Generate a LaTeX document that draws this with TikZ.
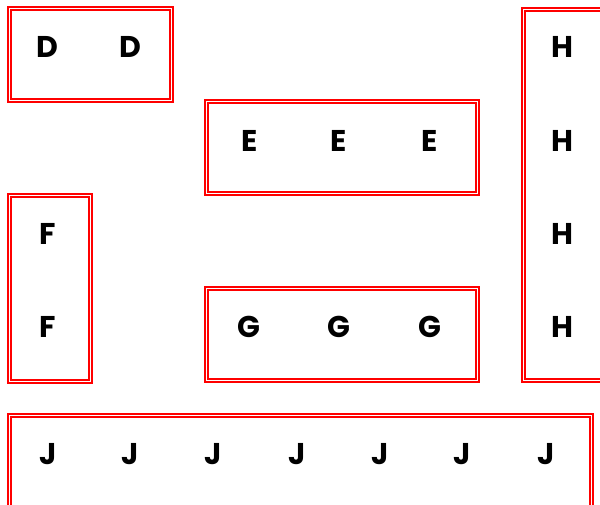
\documentclass[tikz,border=0pt]{standalone}
\usepackage{fontspec}
\setmainfont{Poppins}
\usepackage{tikz}
\usetikzlibrary{positioning}
\definecolor{framecolor}{RGB}{255,0,0}

\begin{document}
\begin{tikzpicture}[
    x=1pt, y=-1pt,
    frame/.style={rectangle, draw=framecolor, line width=2pt, double=white, double distance=1pt, inner sep=0pt},
    letter/.style={font=\bfseries\fontsize{30}{30}\selectfont, inner sep=0pt, anchor=center}
]
\useasboundingbox (0,0) rectangle (600,504);

% frames
\node[frame, minimum width=162pt, minimum height=92pt] (dbox) at (90.5,54.5) {};
\node[frame, minimum width=271pt, minimum height=92pt] (ebox) at (342,147.5) {};
\node[frame, minimum width=81pt, minimum height=186pt] (fbox) at (50,288.5) {};
\node[frame, minimum width=271pt, minimum height=92pt] (gbox) at (342,334.5) {};
\node[frame, minimum width=96.5pt, minimum height=371pt] (hbox) at (571.75,195) {};
\node[frame, minimum width=582pt, minimum height=114.5pt] (jbox) at (300.5,472.75) {};

% letters
\node[letter] (d1) at (47,46.5) {D};
\node[letter] (d2) at (130,46.5) {D};

\node[letter] (e1) at (250,140.5) {E};
\node[letter] (e2) at (339,140.5) {E};
\node[letter] (e3) at (430,140.5) {E};

\node[letter] (f1) at (48,234) {F};
\node[letter] (f2) at (48,327) {F};

\node[letter] (g1) at (249,327) {G};
\node[letter] (g2) at (339,327) {G};
\node[letter] (g3) at (430,327) {G};

\foreach \i/\yy in {1/46.5, 2/140.5, 3/234, 4/327}
    \node[letter] (h\i) at (562,\yy) {H};

\foreach \i/\xx in {1/48, 2/130, 3/213, 4/297, 5/380, 6/462, 7/546}
    \node[letter] (j\i) at (\xx,454) {J};

\end{tikzpicture}
\end{document}
